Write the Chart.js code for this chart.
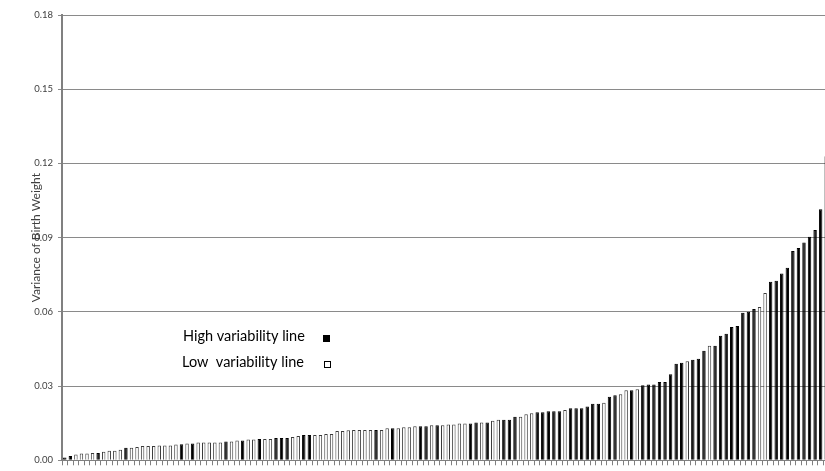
<!DOCTYPE html>
<html>
<head>
<meta charset="utf-8">
<script src="https://cdn.jsdelivr.net/npm/chart.js@4/dist/chart.umd.min.js"></script>
<style>
  html, body { margin: 0; padding: 0; overflow: hidden; background: #fff; }
  #chart { display: block; }
</style>
</head>
<body>
<canvas id="chart" width="829" height="471"></canvas>
<script>
// variance per line, sorted ascending
var variances = [
  0.0011,0.0017,0.0023,0.0027,0.0027,0.0030,0.0030,0.0035,0.0039,0.0039,
  0.0043,0.0051,0.0051,0.0054,0.0058,0.0058,0.0058,0.0060,0.0060,0.0060,
  0.0064,0.0065,0.0068,0.0068,0.0072,0.0072,0.0072,0.0072,0.0072,0.0076,
  0.0076,0.0080,0.0080,0.0084,0.0084,0.0086,0.0086,0.0086,0.0090,0.0090,
  0.0090,0.0094,0.0098,0.0102,0.0102,0.0102,0.0102,0.0106,0.0106,0.0118,
  0.0118,0.0121,0.0122,0.0122,0.0122,0.0122,0.0122,0.0122,0.0130,0.0130,
  0.0130,0.0134,0.0134,0.0138,0.0138,0.0138,0.0142,0.0142,0.0142,0.0145,
  0.0145,0.0149,0.0149,0.0149,0.0153,0.0153,0.0153,0.0160,0.0164,0.0164,
  0.0164,0.0176,0.0176,0.0186,0.0190,0.0194,0.0194,0.0198,0.0198,0.0198,
  0.0203,0.0210,0.0210,0.0210,0.0217,0.0229,0.0229,0.0233,0.0257,0.0263,
  0.0267,0.0283,0.0283,0.0287,0.0303,0.0306,0.0306,0.0317,0.0317,0.0348,
  0.0390,0.0394,0.0400,0.0406,0.0410,0.0443,0.0463,0.0463,0.0503,0.0512,
  0.0539,0.0543,0.0596,0.0600,0.0612,0.0620,0.0676,0.0722,0.0726,0.0755,
  0.0778,0.0846,0.0858,0.0880,0.0904,0.0931,0.1015,0.1229
];

// H = high variability line (black), L = low variability line (white)
var groups = [
  "H","H","L","L","L","L","H","L","L","L",
  "L","H","L","L","L","L","L","L","L","L",
  "L","H","L","H","L","L","L","L","L","H",
  "L","L","H","L","L","H","L","L","H","H",
  "H","L","L","H","H","L","L","L","L","L",
  "L","L","L","L","L","L","H","L","L","H",
  "L","L","L","L","H","H","L","H","L","L",
  "L","L","L","H","H","L","H","L","L","H",
  "H","H","L","L","L","H","H","H","H","H",
  "L","H","H","H","H","H","H","L","H","H",
  "L","L","H","L","H","H","H","H","H","H",
  "H","H","L","H","H","H","L","H","H","H",
  "H","H","H","H","H","L","L","H","H","H",
  "H","H","H","H","H","H","H","H"
];

var yTicks = [0, 0.03, 0.06, 0.09, 0.12, 0.15, 0.18];
var yTitle = "Variance of Birth Weight";
var legendLabels = ["High variability line", "Low  variability line"];

var lines = [];
for (var i = 0; i < variances.length; i++) {
  lines.push(String(i + 1));
}

var fills = [];
var borders = [];
for (var j = 0; j < groups.length; j++) {
  fills.push(groups[j] == "H" ? "#000000" : "#ffffff");
  borders.push(groups[j] == "H" ? "#000000" : "#3a3a3a");
}

// legend drawn as text next to the bars
var textLegend = {
  id: "textLegend",
  afterDraw: function(chart) {
    var ctx = chart.ctx;
    ctx.save();
    ctx.font = "14.5px Lato";
    ctx.fillStyle = "#000";
    ctx.textBaseline = "alphabetic";
    ctx.fillText(legendLabels[0], 183, 341);
    ctx.fillText(legendLabels[1], 182, 367);
    ctx.fillRect(323, 335, 7, 7);
    ctx.strokeStyle = "#000";
    ctx.lineWidth = 1;
    ctx.strokeRect(324.5, 361.5, 6, 6);
    ctx.restore();
  }
};

var configs = {
  type: "bar",
  data: {
    labels: lines,
    datasets: [{
      data: variances,
      backgroundColor: fills,
      borderColor: borders,
      borderWidth: 1,
      barPercentage: 0.62,
      categoryPercentage: 1.0
    }]
  },
  options: {
    responsive: false,
    animation: false,
    layout: { padding: { top: 15, left: 0, right: 0, bottom: 0 } },
    plugins: {
      legend: { display: false },
      tooltip: { enabled: false }
    },
    scales: {
      x: {
        offset: true,
        ticks: { display: false },
        grid: {
          display: true,
          drawOnChartArea: false,
          drawTicks: true,
          tickLength: 5,
          color: "#808080"
        },
        border: { display: true, color: "#808080", width: 1 }
      },
      y: {
        min: 0,
        max: 0.18,
        afterBuildTicks: function(scale) {
          scale.ticks = yTicks.map(function(v) { return { value: v }; });
        },
        afterFit: function(scale) {
          scale.width = 62;
        },
        ticks: {
          padding: 5,
          color: "#404040",
          font: { family: "Lato", size: 9.5 },
          callback: function(v) { return Number(v).toFixed(2); }
        },
        grid: {
          color: "#8a8a8a",
          lineWidth: 1,
          drawTicks: true,
          tickLength: 4
        },
        border: { display: true, color: "#808080", width: 2 },
        title: {
          display: true,
          text: yTitle,
          color: "#404040",
          font: { family: "Lato", size: 12 },
          padding: { top: 29, bottom: 0 }
        }
      }
    }
  },
  plugins: [textLegend]
};

var barChart = new Chart(document.getElementById("chart").getContext("2d"), configs);
</script>
</body>
</html>
